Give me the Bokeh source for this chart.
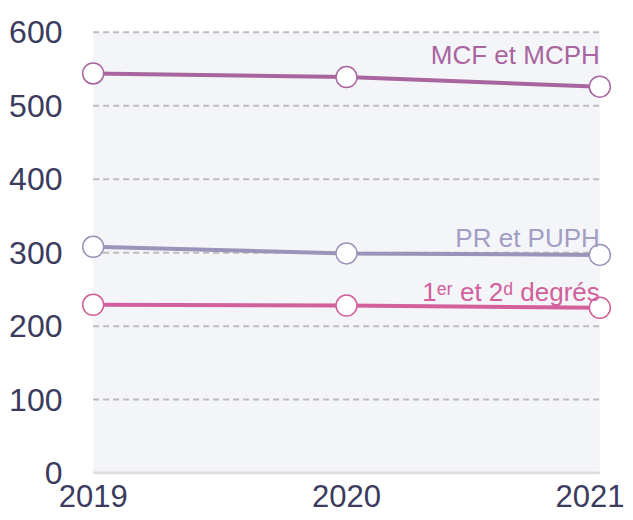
from bokeh.plotting import figure
from bokeh.models import Range1d
from bokeh.core.properties import value
from bokeh.embed import file_html
from bokeh.resources import INLINE

# ---- data ----
years = [2019, 2020, 2021]
mcf_mcph = [544, 539, 526]
pr_puph = [308, 299, 297]
degres = [229, 228, 225]
y_ticks = [0, 100, 200, 300, 400, 500, 600]
grid_levels = [100, 200, 300, 400, 500, 600]
series_names = ["MCF et MCPH", "PR et PUPH", "1ᵉʳ et 2ᵈ degrés"]
label_y = [568.6, 320.5, 246.8]

line_colors = ["#a8659f", "#9b93b9", "#d1609b"]
label_colors = ["#a8659f", "#a29dc4", "#d1609b"]
FONT = "Liberation Sans"
TICK_COLOR = "#3b3b5e"

x0, x1 = min(years), max(years)
ymin, ymax = min(y_ticks), max(y_ticks)

p = figure(
    frame_width=532, frame_height=451,
    x_range=Range1d(x0 - 0.05, x1 + 0.05),
    y_range=Range1d(ymin - 2, ymax + 12),
    output_backend="svg", toolbar_location=None,
    min_border_left=80, min_border_right=12, min_border_top=23, min_border_bottom=40,
)
p.outline_line_color = None
p.background_fill_color = "white"
p.border_fill_color = "white"
p.xgrid.grid_line_color = None
p.ygrid.grid_line_color = None

# plot band background
p.quad(left=[x0], right=[x1], bottom=[ymin], top=[ymax],
       fill_color="#f4f5f9", line_color=None)
# dashed grid
p.segment(x0=[x0] * len(grid_levels), x1=[x1] * len(grid_levels),
          y0=grid_levels, y1=grid_levels,
          line_color="#bdbdbd", line_width=2, line_dash="6 4")
# baseline
p.segment(x0=[x0], x1=[x1], y0=[ymin], y1=[ymin], line_color="#dedede", line_width=3)

for vals, col in zip([mcf_mcph, pr_puph, degres], line_colors):
    p.line(years, vals, line_color=col, line_width=4)
    p.scatter(years, vals, marker="circle", size=21, fill_color="white",
              line_color=col, line_width=1.5)

for name, ly, col in zip(series_names, label_y, label_colors):
    p.text(x=[x1], y=[ly], text=[name], text_align="right", text_baseline="alphabetic",
           text_font=value(FONT), text_font_size="26px", text_color=col)

for ax in (p.xaxis[0], p.yaxis[0]):
    ax.axis_line_color = None
    ax.major_tick_line_color = None
    ax.minor_tick_line_color = None
    ax.major_label_text_font = FONT
    ax.major_label_text_color = TICK_COLOR

p.yaxis.major_label_text_font_size = "32px"
p.xaxis.major_label_text_font_size = "31px"
p.xaxis.ticker = years
p.yaxis.ticker = y_ticks
p.xaxis.major_label_standoff = 4
p.yaxis.major_label_standoff = 12

open("out.html", "w").write(file_html(p, INLINE))
